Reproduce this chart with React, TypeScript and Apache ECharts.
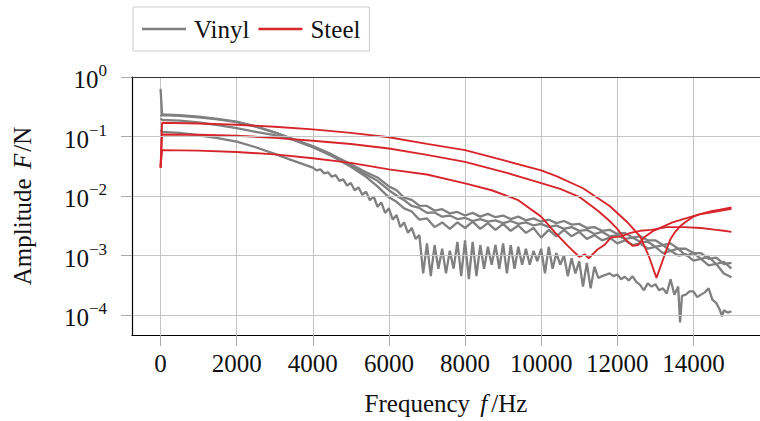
import React, { useEffect, useRef } from "react";
import * as echarts from "echarts";

const FONT = "'Liberation Serif', 'DejaVu Serif', serif";
const GRAY = "#808080";
const RED = "#d7262b";

const legendNames = ["Vinyl", "Steel"];
const xTitle = "Frequency {i|f}/Hz";
const yTitle = "Amplitude {i|F}/N";

// Vinyl measurements: [frequency Hz, amplitude N]
const vinylA: [number, number][] = [
  [0, 0.63], [40, 0.235], [500, 0.228], [1000, 0.215], [1500, 0.198], [2000, 0.178],
  [2500, 0.148], [3000, 0.118], [3500, 0.09], [4000, 0.069], [4500, 0.05], [5000, 0.034],
  [5400, 0.025], [5700, 0.0205], [6000, 0.0145], [6200, 0.0125], [6400, 0.0094], [6600, 0.0086],
  [6800, 0.0069], [7000, 0.0068], [7200, 0.0057], [7400, 0.006], [7600, 0.0051], [7800, 0.0054],
  [8000, 0.0047], [8200, 0.0052], [8400, 0.0045], [8600, 0.005], [8800, 0.0044], [9000, 0.0047],
  [9200, 0.0041], [9400, 0.0045], [9600, 0.0039], [9800, 0.0042], [10000, 0.0037], [10200, 0.004],
  [10400, 0.0035], [10600, 0.0038], [10800, 0.0033], [11000, 0.0034], [11200, 0.0029], [11400, 0.003],
  [11600, 0.0026], [11800, 0.0027], [12000, 0.0023], [12200, 0.0024], [12400, 0.002], [12600, 0.0021],
  [12800, 0.0018], [13000, 0.0018], [13200, 0.0015], [13400, 0.0016], [13600, 0.0013], [13800, 0.0013],
  [14000, 0.0011], [14200, 0.0011], [14400, 0.00088], [14600, 0.00092], [14800, 0.00072], [15000, 0.00075],
];

const vinylB: [number, number][] = [
  [0, 0.2], [40, 0.19], [500, 0.185], [1000, 0.172], [1500, 0.155], [2000, 0.138],
  [2500, 0.12], [3000, 0.105], [3500, 0.087], [4000, 0.066], [4500, 0.047], [5000, 0.031],
  [5400, 0.021], [5700, 0.0145], [6000, 0.0095], [6200, 0.008], [6400, 0.0062], [6600, 0.0055],
  [6800, 0.004], [7000, 0.0042], [7200, 0.003], [7400, 0.0036], [7600, 0.0028], [7800, 0.0036],
  [8000, 0.0029], [8200, 0.0037], [8400, 0.0028], [8600, 0.0035], [8800, 0.0027], [9000, 0.0034],
  [9200, 0.0026], [9400, 0.0032], [9600, 0.0024], [9800, 0.0029], [10000, 0.002], [10200, 0.0027],
  [10400, 0.0021], [10600, 0.0027], [10800, 0.0021], [11000, 0.0025], [11200, 0.0019], [11400, 0.0022],
  [11600, 0.0018], [11800, 0.002], [12000, 0.0016], [12200, 0.0018], [12400, 0.0015], [12600, 0.0016],
  [12800, 0.0013], [13000, 0.0014], [13200, 0.0011], [13400, 0.0012], [13600, 0.001], [13800, 0.00105],
  [14000, 0.00082], [14200, 0.00088], [14400, 0.00068], [14600, 0.00072], [14800, 0.0005], [15000, 0.00043],
];

const vinylC: [number, number][] = [
  [0, 0.22], [40, 0.23], [500, 0.222], [1000, 0.21], [1500, 0.194], [2000, 0.175],
  [2500, 0.146], [3000, 0.116], [3500, 0.089], [4000, 0.067], [4500, 0.048], [5000, 0.032],
  [5400, 0.023], [5700, 0.018], [6000, 0.0125], [6200, 0.0102], [6400, 0.0085], [6600, 0.0068],
  [6800, 0.0063], [7000, 0.0052], [7200, 0.0053], [7400, 0.0045], [7600, 0.0047], [7800, 0.0041],
  [8000, 0.0043], [8200, 0.0038], [8400, 0.0041], [8600, 0.0037], [8800, 0.0039], [9000, 0.0035],
  [9200, 0.0038], [9400, 0.0034], [9600, 0.0036], [9800, 0.0032], [10000, 0.0034], [10200, 0.003],
  [10400, 0.0032], [10600, 0.0028], [10800, 0.003], [11000, 0.0026], [11200, 0.0027], [11400, 0.0023],
  [11600, 0.0025], [11800, 0.0021], [12000, 0.0022], [12200, 0.0019], [12400, 0.002], [12600, 0.0017],
  [12800, 0.0017], [13000, 0.0014], [13200, 0.0015], [13400, 0.0012], [13600, 0.0013], [13800, 0.001],
  [14000, 0.0011], [14200, 0.00088], [14400, 0.00095], [14600, 0.00072], [14800, 0.00078], [15000, 0.0006],
];

const vinylD: [number, number][] = [
  [0, 0.13], [40, 0.12], [500, 0.115], [1000, 0.105], [1500, 0.094], [2000, 0.082],
  [2500, 0.066], [3000, 0.051], [3500, 0.039], [4000, 0.03], [4100, 0.027], [4200, 0.028],
  [4300, 0.024], [4400, 0.025], [4500, 0.021], [4600, 0.0225], [4700, 0.018], [4800, 0.019],
  [4900, 0.015], [5000, 0.0165], [5100, 0.0125], [5200, 0.014], [5300, 0.0105], [5400, 0.0118],
  [5500, 0.0085], [5600, 0.0098], [5700, 0.0066], [5800, 0.0078], [5900, 0.0052], [6000, 0.0062],
  [6100, 0.004], [6200, 0.0048], [6300, 0.003], [6400, 0.0036], [6500, 0.0024], [6600, 0.0029],
  [6700, 0.0019], [6800, 0.0022], [6900, 0.0005], [7000, 0.0016], [7100, 0.00045], [7200, 0.0015],
  [7300, 0.0006], [7400, 0.0013], [7500, 0.0005], [7600, 0.0012], [7700, 0.0006], [7800, 0.0017],
  [7900, 0.00045], [8000, 0.0018], [8100, 0.0004], [8200, 0.0017], [8300, 0.00045], [8400, 0.0015],
  [8500, 0.0006], [8600, 0.0014], [8700, 0.0007], [8800, 0.0015], [8900, 0.0006], [9000, 0.0016],
  [9100, 0.0005], [9200, 0.0015], [9300, 0.0006], [9400, 0.0014], [9500, 0.0007], [9600, 0.0013],
  [9700, 0.0007], [9800, 0.0012], [9900, 0.0008], [10000, 0.0013], [10100, 0.0005], [10200, 0.0014],
  [10300, 0.0006], [10400, 0.0011], [10500, 0.0007], [10600, 0.001], [10700, 0.00045], [10800, 0.0009],
  [10900, 0.0005], [11000, 0.0008], [11100, 0.0003], [11200, 0.00075], [11300, 0.00028], [11400, 0.00065],
  [11500, 0.00042], [11600, 0.00045], [11800, 0.0005], [11900, 0.00045], [12000, 0.00048], [12100, 0.0004],
  [12200, 0.00044], [12300, 0.00038], [12400, 0.00045], [12500, 0.00036], [12600, 0.00032], [12700, 0.00026],
  [12800, 0.00034], [12900, 0.0003], [13000, 0.00033], [13100, 0.00026], [13200, 0.00028], [13300, 0.00023],
  [13400, 0.0004], [13500, 0.00022], [13600, 0.0003], [13650, 0.000075], [13700, 0.00021], [13800, 0.00022],
  [13900, 0.00025], [14000, 0.00025], [14100, 0.0002], [14200, 0.00022], [14300, 0.00024], [14400, 0.00028],
  [14500, 0.00018], [14600, 0.00016], [14700, 0.00012], [14750, 0.000095], [14800, 0.00012], [14900, 0.00011],
  [15000, 0.000115],
];

// Steel measurements: [frequency Hz, amplitude N]
const steelA: [number, number][] = [
  [0, 0.03], [40, 0.17], [1000, 0.165], [2000, 0.158], [3000, 0.146], [4000, 0.132],
  [5000, 0.115], [6000, 0.097], [7000, 0.075], [8000, 0.059], [9000, 0.04], [10000, 0.027],
  [10400, 0.0215], [11100, 0.0135], [11800, 0.0068], [12250, 0.0037], [12600, 0.0021], [12830, 0.00097],
  [13030, 0.00042], [13200, 0.00085], [13300, 0.0013], [13400, 0.0019], [13500, 0.0024], [13650, 0.0031],
  [13800, 0.0037], [14000, 0.0045], [14200, 0.005], [14500, 0.0056], [14700, 0.0059], [15000, 0.0064],
];

const steelB: [number, number][] = [
  [0, 0.03], [40, 0.108], [1000, 0.107], [2000, 0.103], [3000, 0.095], [4000, 0.085],
  [5000, 0.075], [6000, 0.063], [7000, 0.049], [8000, 0.0375], [9000, 0.0255], [10000, 0.0165],
  [10500, 0.0132], [11000, 0.0097], [11500, 0.0056], [11800, 0.0038], [12000, 0.0028], [12200, 0.0019],
  [12400, 0.00145], [12550, 0.0015], [12700, 0.002], [12950, 0.0026], [13450, 0.0036], [14150, 0.0049],
  [14600, 0.0055], [15000, 0.0061],
];

const steelC: [number, number][] = [
  [0, 0.03], [40, 0.059], [1000, 0.058], [2000, 0.055], [3000, 0.05], [4000, 0.043],
  [5000, 0.036], [6000, 0.028], [7000, 0.023], [8000, 0.0163], [8700, 0.0125], [9400, 0.0085],
  [10000, 0.0045], [10350, 0.0025], [10700, 0.00145], [11000, 0.00095], [11150, 0.00104], [11250, 0.0009],
  [11480, 0.00126], [11660, 0.0015], [11830, 0.002], [12100, 0.0021], [12350, 0.0024], [12600, 0.0026],
  [12900, 0.0027], [13300, 0.003], [13750, 0.003], [14200, 0.0029], [14600, 0.0027], [14800, 0.0026],
  [15000, 0.0025],
];

const vinylSeries = [vinylA, vinylC, vinylB, vinylD];
const steelSeries = [steelA, steelB, steelC];

const X_MIN = -750;
const X_MAX = 15750;
const Y_MIN = Math.pow(10, -4.336);
const Y_MAX = 1;

export default function App() {
  const ref = useRef<HTMLDivElement>(null);

  useEffect(() => {
    if (!ref.current) return;
    const chart = echarts.init(ref.current, null, { renderer: "svg" });

    const mk = (name: string, data: [number, number][], color: string, width: number) => ({
      name,
      type: "line",
      data,
      symbol: "none",
      showSymbol: false,
      clip: true,
      lineStyle: { color, width },
      itemStyle: { color },
      emphasis: { disabled: true },
    });

    const option: any = {
      animation: false,
      backgroundColor: "#fff",
      textStyle: { fontFamily: FONT },
      legend: {
        data: legendNames.map((n) => ({ name: n, icon: "rect" })),
        left: 133,
        top: 7,
        padding: [9, 9, 9, 9],
        itemGap: 9,
        itemWidth: 44,
        itemHeight: 2.6,
        borderColor: "#cccccc",
        borderWidth: 1,
        backgroundColor: "#fff",
        textStyle: { fontFamily: FONT, fontSize: 25, lineHeight: 26, color: "#111", padding: [0, 0, 0, 3] },
      },
      grid: { left: 132, right: -7, top: 77, bottom: 86, containLabel: false },
      xAxis: [
        {
          type: "value",
          min: X_MIN,
          max: X_MAX,
          splitNumber: 8,
          minInterval: 2000,
          maxInterval: 2000,
          axisLine: { show: true, onZero: false, lineStyle: { color: "#000", width: 1.2 } },
          axisTick: { show: true, inside: false, length: 11, lineStyle: { color: "#aaaaaa", width: 1 } },
          axisLabel: {
            show: true,
            fontFamily: FONT,
            fontSize: 25,
            color: "#111",
            margin: 16,
            showMinLabel: false,
            showMaxLabel: false,
            formatter: (v: number) => String(v),
          },
          splitLine: { show: true, showMinLine: false, showMaxLine: false, lineStyle: { color: "#c4c4c4", width: 1 } },
          name: xTitle,
          nameLocation: "middle",
          nameGap: 56,
          nameTextStyle: {
            fontFamily: FONT,
            fontSize: 25,
            color: "#111",
            rich: { i: { fontFamily: FONT, fontSize: 25, fontStyle: "italic", color: "#111", padding: [0, 4, 0, 4] } },
          },
          z: 3,
        },
        {
          type: "value",
          position: "top",
          min: X_MIN,
          max: X_MAX,
          axisLine: { show: true, onZero: false, lineStyle: { color: "#333", width: 1.2 } },
          axisTick: { show: false },
          axisLabel: { show: false },
          splitLine: { show: false },
          z: 5,
        },
      ],
      yAxis: {
        type: "log",
        logBase: 10,
        min: Y_MIN,
        max: Y_MAX,
        axisLine: { show: true, onZero: false, lineStyle: { color: "#000", width: 1.2 } },
        axisTick: { show: true, inside: false, length: 11, lineStyle: { color: "#aaaaaa", width: 1 } },
        axisLabel: {
          margin: 25,
          showMinLabel: false,
          formatter: (v: number) => {
            const e = Math.round(Math.log10(v));
            return "{b|10}{s|" + (e === 0 ? "0" : "\u2212" + -e) + "}";
          },
          rich: {
            b: { fontFamily: FONT, fontSize: 25, color: "#111", lineHeight: 30, verticalAlign: "bottom" },
            s: { fontFamily: FONT, fontSize: 17, color: "#111", lineHeight: 30, verticalAlign: "top" },
          },
        },
        splitLine: { show: true, showMinLine: false, showMaxLine: false, lineStyle: { color: "#c4c4c4", width: 1 } },
        name: yTitle,
        nameLocation: "middle",
        nameGap: 97,
        nameTextStyle: {
          fontFamily: FONT,
          fontSize: 25,
          color: "#111",
          rich: { i: { fontFamily: FONT, fontSize: 25, fontStyle: "italic", color: "#111", padding: [0, 2, 0, 3] } },
        },
        z: 4,
      },
      series: [
        ...vinylSeries.map((d) => mk(legendNames[0], d, GRAY, 2.3)),
        ...steelSeries.map((d) => mk(legendNames[1], d, RED, 1.9)),
      ],
    };

    chart.setOption(option);
    return () => chart.dispose();
  }, []);

  return (
    <div
      ref={ref}
      style={{ position: "fixed", left: 0, top: 0, width: 760, height: 421, background: "#fff" }}
    />
  );
}
